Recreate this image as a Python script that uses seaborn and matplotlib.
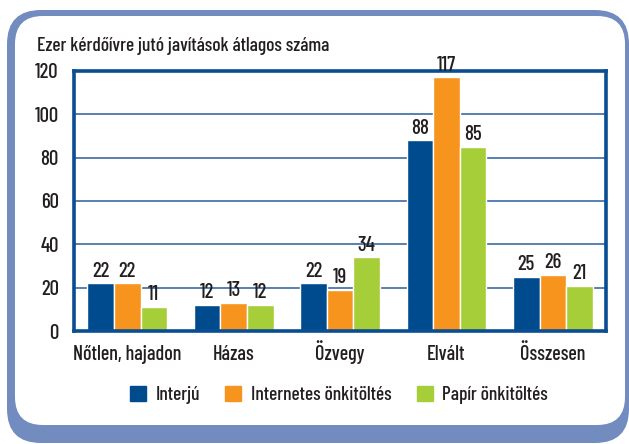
import matplotlib
matplotlib.use("Agg")
import matplotlib.pyplot as plt
from matplotlib.patches import FancyBboxPatch
import seaborn as sns
import pandas as pd

categories = ["Nőtlen, hajadon", "Házas", "Özvegy", "Elvált", "Összesen"]
series = ["Interjú", "Internetes önkitöltés", "Papír önkitöltés"]
interju = [22, 12, 22, 88, 25]
internetes = [22, 13, 19, 117, 26]
papir = [11, 12, 34, 85, 21]
y_ticks = [0, 20, 40, 60, 80, 100, 120]
title = "Ezer kérdőívre jutó javítások átlagos száma"

colors = ["#004b8d", "#f7941d", "#a6ce39"]
frame_color = "#738cbf"
spine_color = "#0a4d92"
grid_color = "#3b6aa6"
text_color = "#231f20"

rows = []
for name, vals in zip(series, [interju, internetes, papir]):
    for cat, v in zip(categories, vals):
        rows.append({"kategória": cat, "módszer": name, "érték": v})
df = pd.DataFrame(rows)

sns.set_theme(style="white")
plt.rcParams["font.family"] = ["Barlow Condensed", "DejaVu Sans"]
plt.rcParams["font.weight"] = "medium"

W, H = 629, 444
fig = plt.figure(figsize=(W / 100, H / 100), dpi=100)
fig.patch.set_facecolor("white")

# rounded frame with an offset blue backing
bg = fig.add_axes([0, 0, 1, 1])
bg.set_xlim(0, W)
bg.set_ylim(H, 0)
bg.axis("off")
bg.add_patch(FancyBboxPatch((7, 10), 622, 433,
                            boxstyle="round,pad=0,rounding_size=34",
                            facecolor=frame_color, edgecolor="none"))
bg.add_patch(FancyBboxPatch((15, 16), 610, 409,
                            boxstyle="round,pad=0,rounding_size=28",
                            facecolor="white", edgecolor="none"))

ax = fig.add_axes([74 / W, (H - 331) / H, (606 - 74) / W, (331 - 71) / H])
sns.barplot(data=df, x="kategória", y="érték", hue="módszer",
            hue_order=series, order=categories, palette=colors,
            width=0.75, saturation=1, ax=ax, legend=False)

ax.set_ylim(0, 120)
ax.set_yticks(y_ticks)
ax.set_xlim(-0.5, len(categories) - 0.5)
ax.yaxis.grid(True, color=grid_color, linewidth=1.2)
ax.set_axisbelow(True)
ax.set_xlabel("")
ax.set_ylabel("")
for sp in ax.spines.values():
    sp.set_visible(True)
    sp.set_color(spine_color)
    sp.set_linewidth(2.6)
ax.tick_params(axis="y", length=0, labelsize=15, colors=text_color, pad=11)
ax.tick_params(axis="x", length=0, labelsize=14.5, colors=text_color, pad=21)
for lbl in ax.get_xticklabels():
    lbl.set_verticalalignment("baseline")

for cont in ax.containers:
    ax.bar_label(cont, fmt="%d", padding=2, fontsize=15, color=text_color)

fig.text(37 / W, 1 - 46 / H, title, fontsize=14, color=text_color,
         va="center", ha="left")

handles = [plt.Rectangle((0, 0), 1, 1, color=c) for c in colors]
fig.legend(handles, series, loc="center", bbox_to_anchor=(339 / W, 1 - 395 / H),
           ncol=3, frameon=False, fontsize=14, handlelength=0.82, handleheight=0.82,
           columnspacing=1.3, handletextpad=0.5, labelcolor=text_color)

fig.savefig("out.png", dpi=100)
